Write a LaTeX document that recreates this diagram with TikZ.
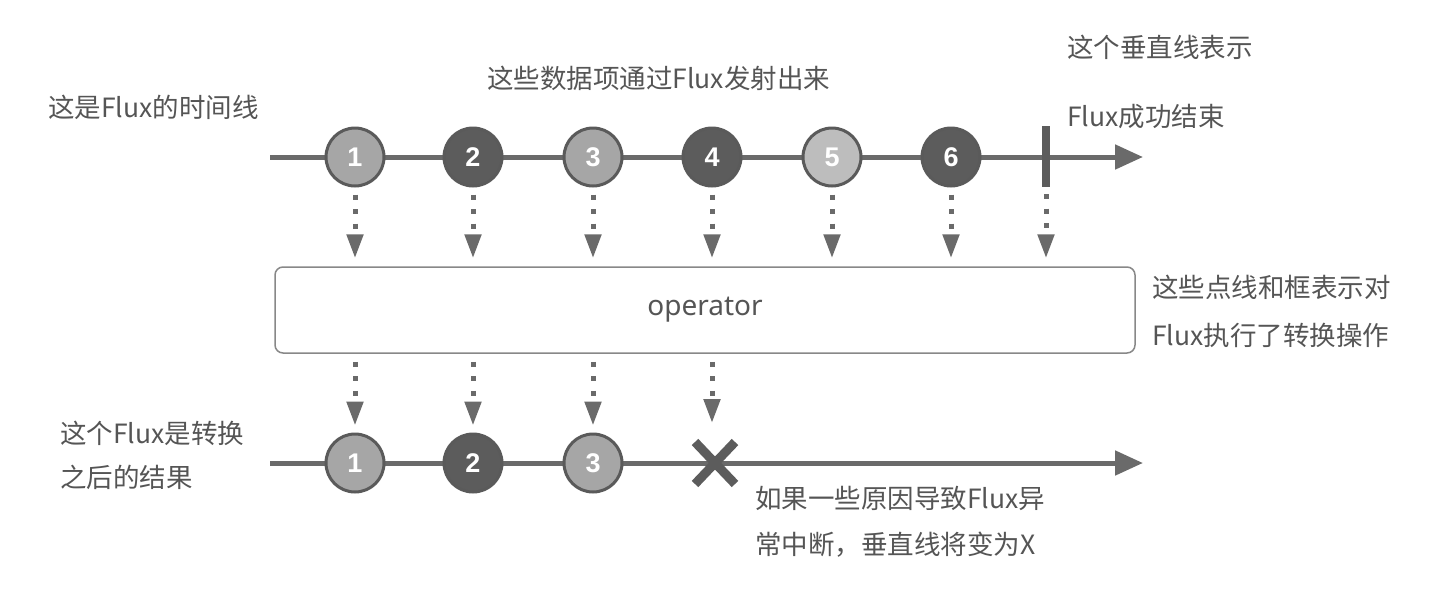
\documentclass[tikz,border=0pt]{standalone}
\usepackage{fontspec}
\setmainfont{Noto Sans}
\newfontfamily\cjk{Noto Sans CJK SC}
\newfontfamily\numfont{Liberation Sans}
\usetikzlibrary{arrows.meta}
\definecolor{txt}{HTML}{555555}
\definecolor{ln}{HTML}{6A6A6A}
\definecolor{lightc}{HTML}{A6A6A6}
\definecolor{lighterc}{HTML}{BDBDBD}
\definecolor{darkc}{HTML}{5C5C5C}
\definecolor{rim}{HTML}{5A5A5A}
\tikzset{
  lbl/.style={font=\cjk\fontsize{26.5}{30}\selectfont, text=txt, anchor=west, inner sep=0pt},
  mainline/.style={draw=ln, line width=5pt, -{Triangle[length=28pt,width=24pt]}},
  item/.style={circle, minimum size=58pt, inner sep=0pt, draw=rim, line width=3pt,
    font=\numfont\bfseries\fontsize{27}{29}\selectfont, text=white},
  dotarrow/.style={draw=ln, line width=5pt, dash pattern=on 5pt off 9.5pt,
    -{Triangle[length=24pt,width=16pt]}},
  opbox/.style={draw=ln!80, line width=1.5pt, rounded corners=8pt, fill=white,
    minimum width=860pt, minimum height=86pt, font=\fontsize{28}{32}\selectfont, text=txt}
}
\begin{document}
\begin{tikzpicture}[x=1pt,y=-1pt]
\useasboundingbox[fill=white] (0,0) rectangle (1434,600);
% top timeline
\coordinate (t0) at (270,157);
\coordinate (t1) at (1143,157);
\draw[mainline] (t0) -- (t1);
\node[item, fill=lightc] (c1) at (355,157) {1};
\node[item, fill=darkc] (c2) at (473,157) {2};
\node[item, fill=lightc] (c3) at (593,157) {3};
\node[item, fill=darkc] (c4) at (712,157) {4};
\node[item, fill=lighterc] (c5) at (832,157) {5};
\node[item, fill=darkc] (c6) at (951,157) {6};
\coordinate (bt) at (1046,126);
\coordinate (bb) at (1046,187);
\draw[draw=darkc, line width=8pt] (bt) -- (bb);
% operator box
\node[opbox] (op) at (705,310) {operator};
% arrows to operator
\foreach \n in {c1,c2,c3,c4,c5,c6}{
  \draw[dotarrow] ([yshift=-7pt]\n.south) -- ([yshift=8pt]op.north -| \n);
}
\draw[dotarrow] ([yshift=-7pt]bb) -- ([yshift=8pt]op.north -| bb);
% bottom timeline
\coordinate (b0) at (270,463);
\coordinate (b1) at (1143,463);
\draw[mainline] (b0) -- (b1);
\node[item, fill=lightc] (d1) at (355,463) {1};
\node[item, fill=darkc] (d2) at (473,463) {2};
\node[item, fill=lightc] (d3) at (593,463) {3};
\coordinate (xx) at (715,463);
\draw[draw=darkc, line width=9pt] ([shift={(-20,-21)}]xx) -- ([shift={(20,21)}]xx)
  ([shift={(-20,21)}]xx) -- ([shift={(20,-21)}]xx);
\coordinate (xtop) at (712,431);
% arrows from operator
\foreach \n in {d1,d2,d3}{
  \draw[dotarrow] ([yshift=-8pt]op.south -| \n) -- ([yshift=7pt]\n.north);
}
\draw[dotarrow] ([yshift=-8pt]op.south -| xtop) -- ([yshift=8pt]xtop);
% labels
\node[lbl] (l1) at (48,107) {这是Flux的时间线};
\node[lbl] (l2) at (487,78) {这些数据项通过Flux发射出来};
\node[lbl] (l3a) at (1067,47) {这个垂直线表示};
\node[lbl] (l3b) at (1067,117) {Flux成功结束};
\node[lbl] (l4a) at (1152,287) {这些点线和框表示对};
\node[lbl] (l4b) at (1152,335) {Flux执行了转换操作};
\node[lbl] (l5a) at (60,433) {这个Flux是转换};
\node[lbl] (l5b) at (60,477) {之后的结果};
\node[lbl] (l6a) at (755,498) {如果一些原因导致Flux异};
\node[lbl] (l6b) at (755,545) {常中断，垂直线将变为X};
\end{tikzpicture}
\end{document}
